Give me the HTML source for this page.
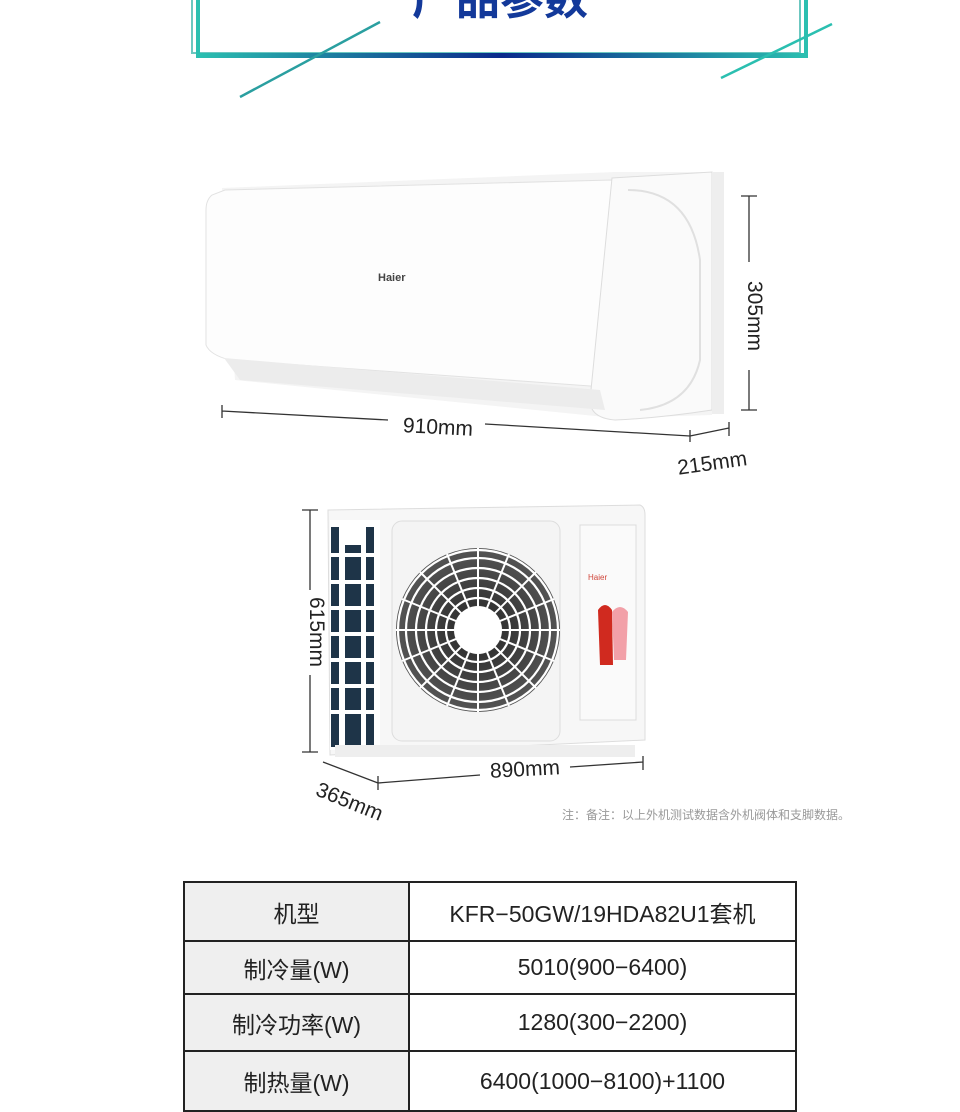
<!DOCTYPE html>
<html><head><meta charset="utf-8"><style>
body{margin:0;background:#fff;width:960px;height:1094px;overflow:hidden;position:relative;font-family:"Liberation Sans","Noto Sans CJK SC",sans-serif}
svg{position:absolute;left:0;top:0}
table{position:absolute;left:183px;top:881px;border-collapse:collapse;width:614px}
td{border:2px solid #222;text-align:center;font-size:23px;color:#222;height:52px;padding:0;box-sizing:border-box}
td.l{background:#efefef;width:225px}
</style></head><body>
<svg width="960" height="1094" viewBox="0 0 960 1094">
<defs>
<linearGradient id="bl" x1="0" x2="1"><stop offset="0" stop-color="#2bbfb0"/><stop offset=".5" stop-color="#0b2a8c"/><stop offset="1" stop-color="#2bbfb0"/></linearGradient>
<radialGradient id="fan"><stop offset=".25" stop-color="#fff"/><stop offset=".3" stop-color="#333"/><stop offset="1" stop-color="#555"/></radialGradient>
</defs>
<path d="M192 0V53H800V0" fill="none" stroke="#6cc7c0" stroke-width="2"/>
<path d="M198 0V56H806V0" fill="none" stroke="#2bbfb0" stroke-width="4"/>
<rect x="198" y="53" width="608" height="5" fill="url(#bl)"/>
<line x1="240" y1="97" x2="380" y2="22" stroke="#2a9fa0" stroke-width="2.5"/>
<line x1="721" y1="78" x2="832" y2="24" stroke="#2bbfb0" stroke-width="2.5"/>
<text x="500" y="14" text-anchor="middle" font-size="44" font-weight="bold" fill="#13399a" font-family="Noto Sans CJK SC,sans-serif">产品参数</text>
<path d="M222 188L615 172H712V415L615 418 235 380Z" fill="#f4f4f4"/>
<path d="M212 195Q206 200 206 210V345Q210 355 230 360L618 388Q628 385 628 375V190Q625 180 612 180L225 190Z" fill="#fdfdfd" stroke="#e2e2e2"/>
<path d="M612 178Q660 175 712 172V410Q660 418 615 420Q590 418 590 400Z" fill="#fafafa" stroke="#ddd"/>
<path d="M628 190Q690 190 700 260V360Q690 405 640 410" fill="none" stroke="#e0e0e0" stroke-width="2"/>
<path d="M224 358L600 390 605 410 240 380Z" fill="#ececec"/>
<rect x="712" y="172" width="12" height="242" fill="#eee"/>
<text x="378" y="281" font-size="11" font-weight="bold" fill="#444">Haier</text>
<g stroke="#333" stroke-width="1.3" fill="none">
<path d="M222 405V418M222 411L388 420M485 424L690 436M690 430V442"/>
<path d="M690 436L729 428M729 422V436"/>
<path d="M741 196H757M749 196V262M749 370V410M741 410H757"/>
</g>
<text x="438" y="434" text-anchor="middle" font-size="21" fill="#222" transform="rotate(3 438 427)">910mm</text>
<text x="712" y="470" text-anchor="middle" font-size="21" fill="#222" transform="rotate(-8 712 462)">215mm</text>
<text x="748" y="316" text-anchor="middle" font-size="21" fill="#222" transform="rotate(90 748 316)">305mm</text>
<path d="M328 510L640 505Q645 507 645 515V740L330 755Z" fill="#f7f7f7" stroke="#ddd"/>
<rect x="330" y="520" width="50" height="230" fill="#fff"/>
<g fill="#1e3448">
<rect x="331" y="527" width="8" height="220"/><rect x="345" y="545" width="16" height="200"/><rect x="366" y="527" width="8" height="220"/>
</g>
<g stroke="#fff" stroke-width="4"><line x1="330" y1="555" x2="380" y2="555"/><line x1="330" y1="582" x2="380" y2="582"/><line x1="330" y1="608" x2="380" y2="608"/><line x1="330" y1="634" x2="380" y2="634"/><line x1="330" y1="660" x2="380" y2="660"/><line x1="330" y1="686" x2="380" y2="686"/><line x1="330" y1="712" x2="380" y2="712"/></g>
<rect x="392" y="521" width="168" height="220" rx="10" fill="#f4f4f4" stroke="#ddd"/>
<circle cx="478" cy="630" r="82" fill="url(#fan)"/>
<g fill="none" stroke="#fff" stroke-width="2.2">
<circle cx="478" cy="630" r="32"/><circle cx="478" cy="630" r="42"/><circle cx="478" cy="630" r="52"/><circle cx="478" cy="630" r="62"/><circle cx="478" cy="630" r="72"/><circle cx="478" cy="630" r="80"/>
</g>
<g stroke="#fff" stroke-width="2">
<line x1="478" y1="548" x2="478" y2="712"/><line x1="396" y1="630" x2="560" y2="630"/><line x1="420" y1="572" x2="536" y2="688"/><line x1="536" y1="572" x2="420" y2="688"/>
<line x1="447" y1="554" x2="509" y2="706"/><line x1="509" y1="554" x2="447" y2="706"/><line x1="402" y1="599" x2="554" y2="661"/><line x1="402" y1="661" x2="554" y2="599"/>
</g>
<circle cx="478" cy="630" r="24" fill="#fff"/>
<rect x="580" y="525" width="56" height="195" fill="#fafafa" stroke="#ddd"/>
<text x="588" y="580" font-size="8" fill="#d0453a">Haier</text>
<path d="M598 610Q605 600 612 610L613 665H600Z" fill="#d02a1f"/>
<path d="M612 612Q620 602 628 612L626 660H614Z" fill="#f2a0a8"/>
<rect x="335" y="745" width="300" height="12" fill="#eee"/>
<g stroke="#333" stroke-width="1.3" fill="none">
<path d="M302 510H318M310 510V590M310 675V752M302 752H318"/>
<path d="M323 762L378 783M378 776V790M378 783L480 775M570 767L643 762M643 756V770"/>
</g>
<text x="310" y="632" text-anchor="middle" font-size="21" fill="#222" transform="rotate(90 310 632)">615mm</text>
<text x="525" y="776" text-anchor="middle" font-size="21" fill="#222" transform="rotate(-3 525 770)">890mm</text>
<text x="347" y="808" text-anchor="middle" font-size="21" fill="#222" transform="rotate(22 347 808)">365mm</text>
<text x="562" y="819" font-size="12" fill="#999">注：备注：以上外机测试数据含外机阀体和支脚数据。</text>
</svg>
<table>
<tr><td class="l" style="height:59px">机型</td><td>KFR−50GW/19HDA82U1套机</td></tr>
<tr><td class="l" style="height:53px">制冷量(W)</td><td>5010(900−6400)</td></tr>
<tr><td class="l" style="height:57px">制冷功率(W)</td><td>1280(300−2200)</td></tr>
<tr><td class="l" style="height:60px">制热量(W)</td><td>6400(1000−8100)+1100</td></tr>
</table>
</body></html>
